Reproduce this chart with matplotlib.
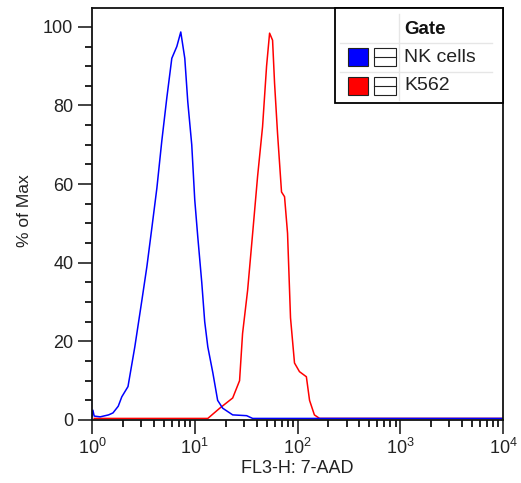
import matplotlib
matplotlib.use("Agg")
import matplotlib.pyplot as plt
from matplotlib.patches import Rectangle
from matplotlib.lines import Line2D
import numpy as np

plt.rcParams['font.family'] = ['Liberation Sans', 'DejaVu Sans']

# NK cells (blue) histogram: fluorescence vs % of Max
nk_x = [1.0, 1.02, 1.05, 1.2, 1.45, 1.6, 1.8, 1.95, 2.24, 2.61, 3.06, 3.42, 3.83, 4.28,
        4.78, 5.35, 5.98, 6.69, 7.31, 8.0, 8.55, 9.35, 10.0, 10.7, 11.7, 12.5, 13.4,
        15.0, 16.7, 18.7, 23.4, 32.0, 36.6, 10000.0]
nk_y = [1.0, 2.5, 1.0, 0.8, 1.3, 1.8, 3.5, 5.9, 8.5, 18.6, 30.5, 39.0, 49.0, 59.0,
        71.0, 82.0, 92.0, 95.0, 98.7, 92.0, 81.0, 70.0, 56.0, 46.6, 35.0, 25.0, 18.6,
        12.0, 5.0, 3.0, 1.3, 1.1, 0.4, 0.4]

# K562 (red) histogram
k562_x = [1.05, 13.4, 17.5, 23.4, 27.3, 29.2, 32.7, 36.6, 40.9, 45.7, 50.0, 53.5, 57.2,
          59.8, 63.9, 69.9, 74.8, 80.0, 85.5, 93.5, 104.5, 122.0, 131.0, 146.0, 164.0,
          10000.0]
k562_y = [0.4, 0.4, 3.0, 5.6, 10.0, 22.0, 33.0, 47.5, 62.0, 74.6, 90.0, 98.4, 96.6,
          85.7, 73.0, 58.0, 56.8, 47.5, 26.0, 14.5, 12.3, 11.0, 5.0, 1.3, 0.4, 0.4]

legend_title = "Gate"
legend_labels = ["NK cells", "K562"]
legend_colors = ["#0000ff", "#ff0000"]

W, H = 521, 483
fig = plt.figure(figsize=(W / 100, H / 100), dpi=100)
ax = fig.add_axes([92 / W, (H - 420) / H, (503 - 92) / W, (420 - 8) / H])

ax.plot(k562_x, k562_y, color="#ff0000", lw=1.1)
ax.plot(nk_x, nk_y, color="#0000ff", lw=1.1)

ax.set_xscale("log")
ax.set_xlim(1, 1e4)
ax.set_ylim(0, 104.8)
ax.set_yticks([0, 20, 40, 60, 80, 100])
ax.set_yticks(np.arange(0, 101, 5), minor=True)
ax.set_xticks([1, 10, 100, 1000, 10000])
ax.set_xticklabels([r"$\mathregular{10^{%d}}$" % i for i in range(5)])
ax.tick_params(axis="both", which="major", direction="out", length=10, width=1.2,
               labelsize=13, colors="#222222")
ax.tick_params(axis="both", which="minor", direction="out", length=5, width=1.2)
ax.tick_params(axis="x", which="major", pad=3)
for s in ax.spines.values():
    s.set_linewidth(1.3)
    s.set_color("#111111")

ax.set_xlabel("FL3-H: 7-AAD", fontsize=13, labelpad=1, color="#222222")
ax.set_ylabel("% of Max", fontsize=12.5, color="#222222", va="center")
ax.yaxis.set_label_coords((25 - 92) / 411, (420 - 211) / 412)

# Legend table (drawn in figure pixel coordinates)
def fx(px):
    return px / W

def fy(py):
    return (H - py) / H

tr = fig.transFigure
box = Rectangle((fx(335), fy(103)), fx(503) - fx(335), fy(8) - fy(103),
                transform=tr, facecolor="white", edgecolor="black", lw=1.3, zorder=5)
fig.add_artist(box)
fig.add_artist(Line2D([fx(399), fx(399)], [fy(14), fy(100)], transform=tr,
                      color="#e6e6e6", lw=1, zorder=6))
for yy in [43, 72]:
    fig.add_artist(Line2D([fx(340), fx(492)], [fy(yy), fy(yy)], transform=tr,
                          color="#e6e6e6", lw=1, zorder=6))
fig.text(fx(404), fy(29), legend_title, fontsize=13.5, fontweight="bold",
         va="center", ha="left", zorder=7, color="#111111")
for i, (lab, col) in enumerate(zip(legend_labels, legend_colors)):
    yc = 57 + i * 29
    fig.add_artist(Rectangle((fx(348), fy(yc + 9)), fx(368) - fx(348), fy(yc - 9) - fy(yc + 9),
                             transform=tr, facecolor=col, edgecolor="#222222", lw=0.8, zorder=7))
    fig.add_artist(Rectangle((fx(374), fy(yc + 9)), fx(396) - fx(374), fy(yc - 9) - fy(yc + 9),
                             transform=tr, facecolor="white", edgecolor="#222222", lw=0.8, zorder=7))
    fig.add_artist(Line2D([fx(374), fx(396)], [fy(yc), fy(yc)], transform=tr,
                          color="#222222", lw=0.8, zorder=8))
    fig.text(fx(404), fy(yc), lab, fontsize=14, va="center", ha="left",
             color="#222222", zorder=7)

fig.savefig("out.png", dpi=100)
